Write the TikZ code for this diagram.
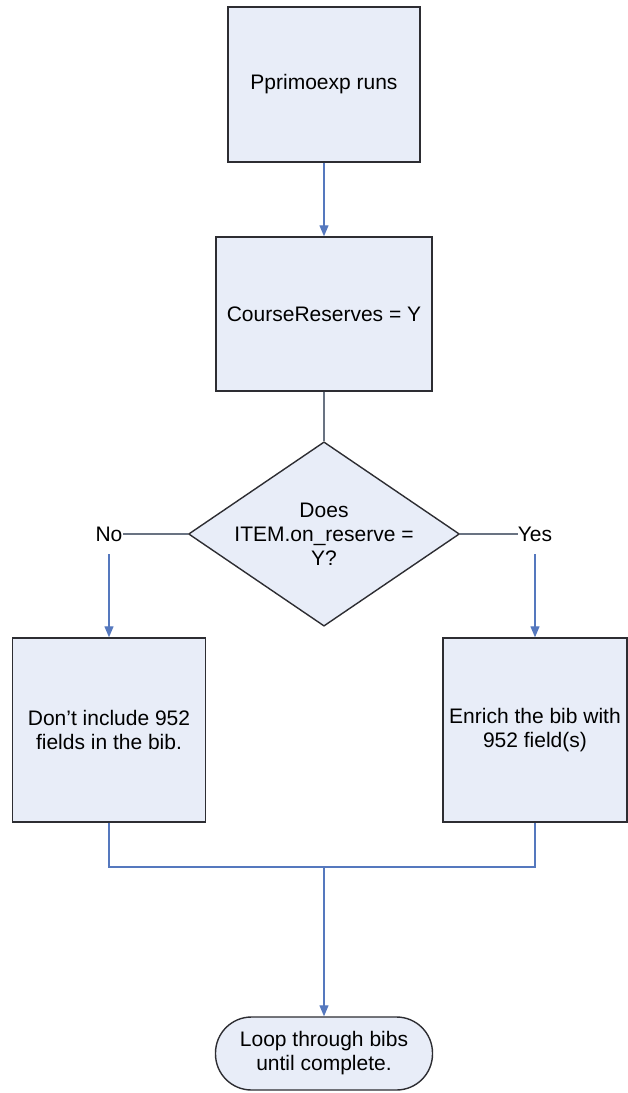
\documentclass[tikz,border=0pt]{standalone}
\usepackage{fontspec}
\setmainfont{Liberation Sans}
\usetikzlibrary{shapes.geometric,arrows.meta}
\definecolor{boxfill}{RGB}{232,237,248}
\definecolor{boxdraw}{RGB}{45,45,50}
\definecolor{conn}{RGB}{85,120,190}
\definecolor{grayline}{RGB}{105,115,130}
\tikzset{
  procbox/.style={draw=boxdraw, fill=boxfill, line width=1.4pt, inner sep=0pt, align=center,
    font=\fontsize{21}{24}\selectfont},
  decbox/.style={procbox, shape=diamond, minimum width=262pt, minimum height=178pt, aspect=1.47},
  termbox/.style={procbox, rounded corners=36pt, minimum width=217pt, minimum height=73pt},
  arr/.style={draw=conn, line width=1.3pt, -{Triangle[width=9pt,length=11pt]}},
  plain/.style={draw=conn, line width=1.3pt},
  grayconn/.style={draw=grayline, line width=1.3pt},
  lbl/.style={inner xsep=0pt, minimum height=40pt, font=\fontsize{21}{24}\selectfont}
}
\begin{document}
\begin{tikzpicture}[x=1pt,y=-1pt]
\useasboundingbox (0,0) rectangle (628,1093);
\node[procbox, minimum width=192pt, minimum height=155pt] (b1) at (324,84.5) {Pprimoexp runs};
\node[procbox, minimum width=216pt, minimum height=154pt] (b2) at (324,314) {CourseReserves = Y};
\node[decbox] (dec) at (324,534) {Does\\ITEM.on\_reserve =\\Y?};
\node[procbox, minimum width=193pt, minimum height=184pt] (b3) at (109,730) {Don't include 952\\fields in the bib.};
\node[procbox, minimum width=184pt, minimum height=184pt] (b4) at (535,730) {Enrich the bib with\\952 field(s)};
\node[termbox] (term) at (324,1053.5) {Loop through bibs\\until complete.};
\node[lbl] (no) at (b3.north |- dec.west) {No};
\node[lbl] (yes) at (b4.north |- dec.east) {Yes};
\coordinate (merge) at (324,867);

\draw[arr] (b1.south) -- (b2.north);
\draw[grayconn] (b2.south) -- (dec.north);
\draw[grayconn] (dec.west) -- (no.east);
\draw[arr] (no.south) -- (b3.north);
\draw[grayconn] (dec.east) -- (yes.west);
\draw[arr] (yes.south) -- (b4.north);
\draw[plain] (b3.south) |- (merge) -| (b4.south);
\draw[arr] (merge) -- (term.north);
\end{tikzpicture}
\end{document}
